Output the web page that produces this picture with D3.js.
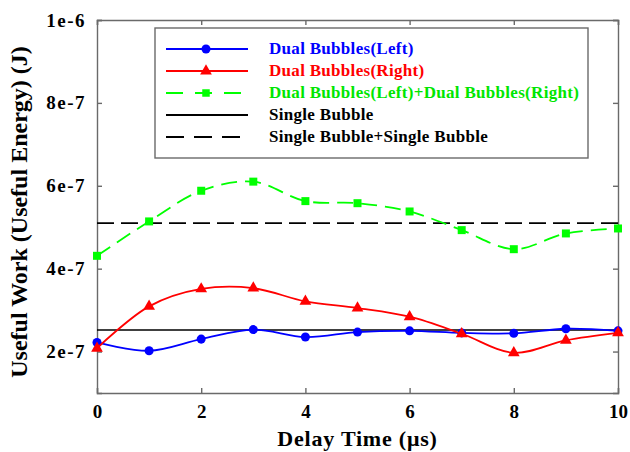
<!DOCTYPE html>
<html>
<head>
<meta charset="utf-8">
<script src="https://cdn.jsdelivr.net/npm/d3@7"></script>
<style>
  body { margin: 0; background: #fff; }
  text { font-family: "Liberation Serif", "Times New Roman", serif; font-weight: bold; }
</style>
</head>
<body>
<div id="chart"></div>
<script>
var delay = [0, 1, 2, 3, 4, 5, 6, 7, 8, 9, 10];
var dualLeft  = [2.22e-7, 2.02e-7, 2.3e-7, 2.53e-7, 2.35e-7, 2.47e-7, 2.5e-7, 2.45e-7, 2.44e-7, 2.55e-7, 2.5e-7];
var dualRight = [2.08e-7, 3.09e-7, 3.51e-7, 3.53e-7, 3.21e-7, 3.05e-7, 2.84e-7, 2.43e-7, 1.97e-7, 2.27e-7, 2.45e-7];
var dualSum   = [4.31e-7, 5.14e-7, 5.88e-7, 6.1e-7, 5.63e-7, 5.58e-7, 5.38e-7, 4.93e-7, 4.47e-7, 4.85e-7, 4.97e-7];
var singleBubble = 2.52e-7;
var singleDouble = 5.1e-7;
var xTicks = [0, 2, 4, 6, 8, 10];
var yTicks = [2e-7, 4e-7, 6e-7, 8e-7, 1e-6];
var yTickLabels = ["2e-7", "4e-7", "6e-7", "8e-7", "1e-6"];
var legendLabels = ["Dual Bubbles(Left)", "Dual Bubbles(Right)", "Dual Bubbles(Left)+Dual Bubbles(Right)", "Single Bubble", "Single Bubble+Single Bubble"];

var margin = { top: 20, right: 12, bottom: 59, left: 97 },
    width = 630 - margin.left - margin.right,
    height = 452 - margin.top - margin.bottom;

var svg = d3.select("#chart").append("svg")
    .attr("width", 630).attr("height", 452);
var g = svg.append("g").attr("transform", "translate(" + margin.left + "," + margin.top + ")");

var x = d3.scaleLinear().domain([0, 10]).range([0, width]);
var y = d3.scaleLinear().domain([1e-7, 1e-6]).range([height, 0]);

// frame with inward ticks
g.append("g").attr("class", "axis").attr("transform", "translate(0," + height + ")")
  .call(d3.axisBottom(x).tickValues(xTicks).tickSize(-5).tickPadding(12).tickFormat(d3.format("d")));
g.append("g").attr("class", "axis")
  .call(d3.axisTop(x).tickValues(xTicks).tickSize(-5).tickFormat(""));
g.append("g").attr("class", "axis yleft")
  .call(d3.axisLeft(y).tickValues(yTicks).tickSize(-5).tickPadding(11)
    .tickFormat(function(d, i) { return yTickLabels[i]; }));
g.append("g").attr("class", "axis").attr("transform", "translate(" + width + ",0)")
  .call(d3.axisRight(y).tickValues(yTicks).tickSize(-5).tickFormat(""));

g.selectAll(".axis path, .axis line").attr("stroke", "#6a6a6a").attr("stroke-width", 1.4);
g.selectAll(".axis text").attr("fill", "#000").style("font-size", "19px")
  .style("font-family", "'Liberation Serif', serif").style("font-weight", "bold");
g.selectAll(".yleft text").style("letter-spacing", "1.5px");

// reference lines
g.append("line").attr("x1", 0).attr("x2", width).attr("y1", y(singleBubble)).attr("y2", y(singleBubble))
  .attr("stroke", "#000").attr("stroke-width", 1.6);
g.append("line").attr("x1", 0).attr("x2", width).attr("y1", y(singleDouble)).attr("y2", y(singleDouble))
  .attr("stroke", "#000").attr("stroke-width", 1.6).attr("stroke-dasharray", "17,7");

var line = d3.line().x(function(d, i) { return x(delay[i]); }).y(function(d) { return y(d); })
  .curve(d3.curveCatmullRom.alpha(0.5));

var series = [
  { values: dualSum, color: "#00ff00", dash: "16,8", marker: d3.symbolSquare, size: 64 },
  { values: dualLeft, color: "#0000ff", dash: null, marker: d3.symbolCircle, size: 64 },
  { values: dualRight, color: "#ff0000", dash: null, marker: d3.symbolTriangle, size: 60 }
];

series.forEach(function(s) {
  g.append("path").datum(s.values).attr("d", line).attr("fill", "none")
    .attr("stroke", s.color).attr("stroke-width", 1.8).attr("stroke-dasharray", s.dash);
  g.selectAll(null).data(s.values).enter().append("path")
    .attr("d", d3.symbol().type(s.marker).size(s.size))
    .attr("transform", function(d, i) { return "translate(" + x(delay[i]) + "," + y(d) + ")"; })
    .attr("fill", s.color);
});

// axis titles
svg.append("text").attr("x", margin.left + width / 2).attr("y", 446).attr("text-anchor", "middle")
  .style("font-size", "22px").style("letter-spacing", "0.8px").text("Delay Time (\u03bcs)");
svg.append("text").attr("transform", "translate(27,212) rotate(-90)").attr("text-anchor", "middle")
  .style("font-size", "24px").text("Useful Work (Useful Energy) (J)");

// legend
var legend = svg.append("g");
legend.append("rect").attr("x", 155).attr("y", 28).attr("width", 433).attr("height", 130)
  .attr("fill", "#fff").attr("stroke", "#6a6a6a").attr("stroke-width", 1.4);
var legendItems = [
  { color: "#0000ff", textColor: "#0000ff", dash: null, marker: d3.symbolCircle, size: 64 },
  { color: "#ff0000", textColor: "#ff0000", dash: null, marker: d3.symbolTriangle, size: 60 },
  { color: "#00ff00", textColor: "#00e600", dash: "17,12", marker: d3.symbolSquare, size: 56 },
  { color: "#000", textColor: "#000", dash: null, marker: null },
  { color: "#000", textColor: "#000", dash: "18,10", marker: null }
];
legendItems.forEach(function(it, i) {
  var ly = 49 + i * 22;
  legend.append("line").attr("x1", 166).attr("x2", 248).attr("y1", ly).attr("y2", ly)
    .attr("stroke", it.color).attr("stroke-width", 1.8).attr("stroke-dasharray", it.dash);
  if (it.marker) {
    legend.append("path").attr("d", d3.symbol().type(it.marker).size(it.size)())
      .attr("transform", "translate(206," + ly + ")").attr("fill", it.color);
  }
  legend.append("text").attr("x", 269).attr("y", ly + 5).attr("fill", it.textColor)
    .style("font-size", "17px").style("letter-spacing", "0.3px").text(legendLabels[i]);
});
</script>
</body>
</html>
